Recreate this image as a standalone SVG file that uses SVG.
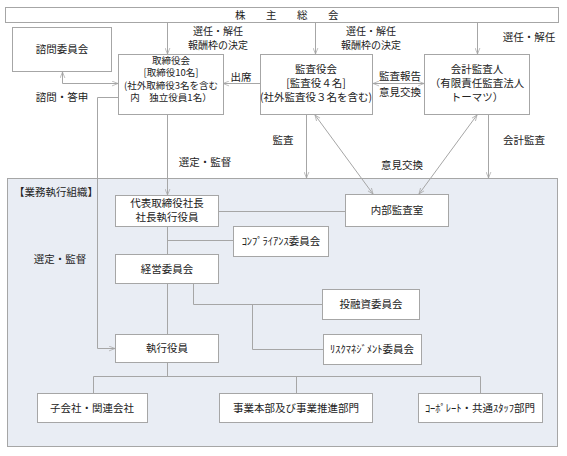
<svg xmlns="http://www.w3.org/2000/svg" width="567" height="456" viewBox="0 0 567 456">
<style>
.box{fill:#fff;stroke:#a6a6a6;stroke-width:1}
.org{fill:#e9edf4;stroke:#a6a6a6;stroke-width:1}
.ln{fill:none;stroke:#a6a6a6;stroke-width:1}
.arr{fill:none;stroke:#a6a6a6;stroke-width:1;marker-end:url(#ah)}
.arr2{fill:none;stroke:#a6a6a6;stroke-width:1;marker-start:url(#ah);marker-end:url(#ah)}
text{font-family:"Noto Sans CJK JP","Noto Sans CJK SC",sans-serif;font-size:10.5px;fill:#222;text-anchor:middle}
.l{text-anchor:start}
.s{font-size:9.5px}
.m{font-size:10px}
</style>
<defs>
<marker id="ah" viewBox="0 0 10 10" refX="10" refY="5" markerWidth="6" markerHeight="6" orient="auto-start-reverse" markerUnits="userSpaceOnUse">
<path d="M0,1 L10,5 L0,9" fill="none" stroke="#a6a6a6" stroke-width="1.2"/>
</marker>
</defs>
<rect width="567" height="456" fill="#fff"/>
<g id="exec-org">
<rect class="org" x="7.5" y="178.5" width="550" height="268"/>
<text class="l" x="14" y="196">【業務執行組織】</text>
</g>
<g id="connectors">
<path class="arr" d="M167.5,22 V54"/>
<path class="arr" d="M315.5,22 V54"/>
<path class="arr" d="M477.5,22 V54"/>
<path class="arr" d="M260,83.5 H223"/>
<path class="arr2" d="M373,83.5 H424"/>
<path class="arr2" d="M62.5,72 V83.5 H118"/>
<path class="arr" d="M118,97.5 H97.5 V348.5 H115"/>
<path class="arr" d="M167.5,114 V195"/>
<path class="arr" d="M306.5,114 V178"/>
<path class="arr" d="M488.5,114 V178"/>
<path class="arr2" d="M315,115 L373,194"/>
<path class="arr2" d="M477,115 L419,194"/>
<path class="ln" d="M218,211.5 H345"/>
<path class="ln" d="M167.5,226 V334"/>
<path class="ln" d="M167.5,240.5 H233"/>
<path class="ln" d="M193.5,283 V304.5 H322"/>
<path class="ln" d="M252.5,304.5 V349.5 H323"/>
<path class="ln" d="M167.5,362 V376.5"/>
<path class="ln" d="M93.5,393 V376.5 H480.5 V393"/>
<path class="ln" d="M296.5,376.5 V393"/>
</g>
<g id="labels">
<text class="m" x="218" y="35">選任・解任</text>
<text class="m" x="218" y="49">報酬枠の決定</text>
<text class="m" x="371" y="35">選任・解任</text>
<text class="m" x="371" y="49">報酬枠の決定</text>
<text x="529" y="41">選任・解任</text>
<text x="241" y="81">出席</text>
<text x="400" y="80">監査報告</text>
<text x="400" y="96">意見交換</text>
<text x="62" y="101">諮問・答申</text>
<text x="283" y="144">監査</text>
<text x="524" y="144">会計監査</text>
<text x="205" y="166">選定・監督</text>
<text x="402" y="169">意見交換</text>
<text x="60" y="263">選定・監督</text>
</g>
<g id="shareholders">
<rect class="box" x="5.5" y="7.5" width="553" height="15"/>
<text x="235 266 297 328" y="19" style="text-anchor:start">株主総会</text>
</g>
<g id="advisory">
<rect class="box" x="12.5" y="27.5" width="99" height="44"/>
<text x="62" y="53">諮問委員会</text>
</g>
<g id="board">
<rect class="box" x="118.5" y="54.5" width="105" height="60"/>
<text class="s" x="171" y="63.5">取締役会</text>
<text class="s" x="171" y="76">[取締役10名]</text>
<text class="s" x="171" y="88.5">(社外取締役3名を含む</text>
<text class="s" x="171" y="101">内　独立役員1名）</text>
</g>
<g id="auditors">
<rect class="box" x="260.5" y="54.5" width="112" height="60"/>
<text x="316" y="73">監査役会</text>
<text x="316" y="87">[監査役４名]</text>
<text x="316" y="101">(社外監査役３名を含む)</text>
</g>
<g id="accounting-auditor">
<rect class="box" x="424.5" y="54.5" width="105" height="60"/>
<text x="477" y="73">会計監査人</text>
<text x="477" y="87">（有限責任監査法人</text>
<text x="477" y="101">トーマツ）</text>
</g>
<g id="president">
<rect class="box" x="115.5" y="195.5" width="103" height="31"/>
<text x="167" y="207">代表取締役社長</text>
<text x="167" y="221">社長執行役員</text>
</g>
<g id="internal-audit">
<rect class="box" x="345.5" y="194.5" width="103" height="32"/>
<text x="397" y="214">内部監査室</text>
</g>
<g id="compliance">
<rect class="box" x="233.5" y="226.5" width="95" height="30"/>
<text x="281" y="245">ｺﾝﾌﾟﾗｲｱﾝｽ委員会</text>
</g>
<g id="management">
<rect class="box" x="115.5" y="254.5" width="103" height="29"/>
<text x="167" y="273">経営委員会</text>
</g>
<g id="investment">
<rect class="box" x="322.5" y="289.5" width="97" height="30"/>
<text x="371" y="308">投融資委員会</text>
</g>
<g id="officers">
<rect class="box" x="115.5" y="334.5" width="103" height="28"/>
<text x="167" y="352">執行役員</text>
</g>
<g id="risk">
<rect class="box" x="323.5" y="334.5" width="98" height="30"/>
<text x="372" y="353">ﾘｽｸﾏﾈｼﾞﾒﾝﾄ委員会</text>
</g>
<g id="subsidiaries">
<rect class="box" x="37.5" y="393.5" width="110" height="29"/>
<text x="92" y="412">子会社・関連会社</text>
</g>
<g id="business">
<rect class="box" x="219.5" y="393.5" width="153" height="29"/>
<text x="296" y="412">事業本部及び事業推進部門</text>
</g>
<g id="corporate">
<rect class="box" x="418.5" y="393.5" width="124" height="29"/>
<text x="480" y="412">ｺｰﾎﾟﾚｰﾄ・共通ｽﾀｯﾌ部門</text>
</g>
</svg>
